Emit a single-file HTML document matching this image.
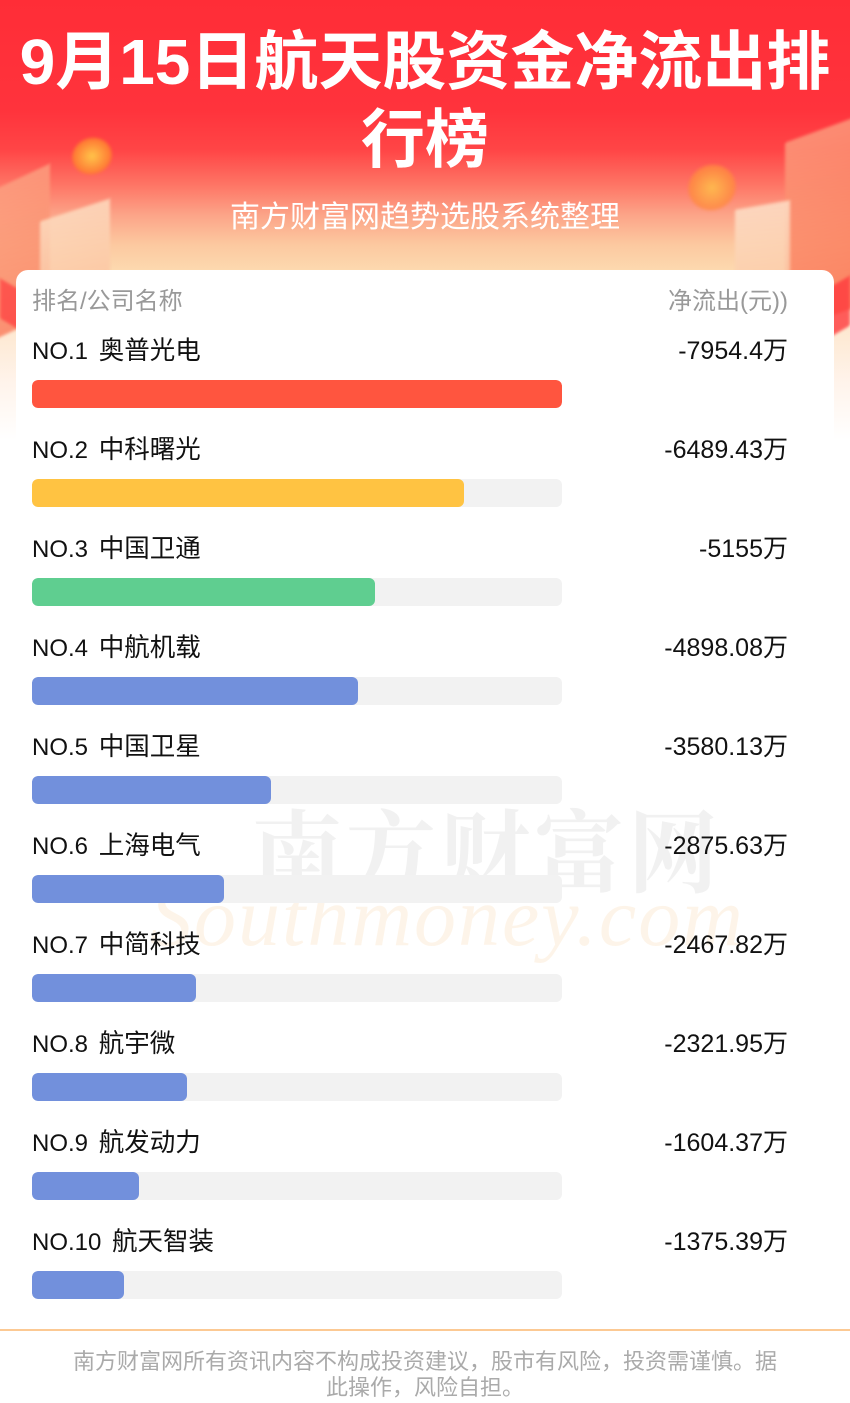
<!DOCTYPE html>
<html><head><meta charset="utf-8">
<style>
*{margin:0;padding:0;box-sizing:border-box}
html,body{width:850px;height:1403px;overflow:hidden;background:#fff}
body{position:relative;font-family:"Liberation Sans","Noto Sans CJK SC",sans-serif}
.bg{position:absolute;left:0;top:0;width:850px;height:440px;
background:linear-gradient(180deg,#ff2d37 0px,#ff333c 110px,#ff4546 150px,#fe7565 185px,#fca488 215px,#fcc9a0 245px,#fddcb2 275px,#fde6cc 320px,#fff3ea 380px,#ffffff 440px)}
.deco{position:absolute;filter:blur(1.5px)}
.card{position:absolute;left:16px;top:270px;width:818px;height:1140px;background:#fff;border-radius:12px 12px 0 0}
.title{position:absolute;left:0;width:850px;text-align:center;color:#fff;font-weight:700;font-size:64px;line-height:80px;font-family:"Liberation Sans","Noto Sans CJK SC",sans-serif}
.sub{position:absolute;left:0;top:200px;width:850px;text-align:center;color:#fff;font-size:30px;line-height:36px}
.hd{position:absolute;top:288px;font-size:24px;line-height:28px;color:#999}
.name{position:absolute;left:32px;font-size:24px;line-height:30px;color:#111;white-space:nowrap}
.name span{font-size:25.5px;margin-left:4px}
.val{position:absolute;right:62px;font-size:25px;line-height:30px;color:#111;text-align:right}
.track{position:absolute;left:32px;width:530px;height:28px;background:#f2f2f2;border-radius:6px;overflow:hidden}
.bar{position:absolute;left:0;top:0;height:28px;border-radius:6px}
.wm1{position:absolute;left:252px;top:796px;font-size:90px;line-height:100px;color:#ececec;opacity:.7;letter-spacing:4px;font-family:"Noto Serif CJK SC",serif;font-weight:700}
.wm2{position:absolute;left:150px;top:868px;font-size:84px;line-height:100px;color:#fdeedb;opacity:.6;font-style:italic;font-family:"Liberation Serif",serif;letter-spacing:2px}
.foot{position:absolute;left:0;top:1329px;width:850px;height:2px;background:#fcc993}
.ft{position:absolute;left:0;top:1349px;width:850px;text-align:center;font-size:22px;line-height:26px;color:#aaa}
</style></head><body>
<div class="bg"></div>
<!-- left decorations -->
<div class="deco" style="left:-20px;top:180px;width:70px;height:150px;background:linear-gradient(180deg,#fca282,#fb7a5a);transform:skewY(-25deg);opacity:.8"></div>
<div class="deco" style="left:40px;top:210px;width:70px;height:100px;background:linear-gradient(180deg,#fddcc0,#fcc09a);transform:skewY(-18deg);opacity:.85"></div>
<div class="deco" style="left:72px;top:138px;width:40px;height:36px;border-radius:50%;background:radial-gradient(#ffd24a,#ff7a30 70%,rgba(255,80,40,0) 100%);opacity:.9;transform:rotate(-20deg)"></div>
<div class="deco" style="left:0px;top:290px;width:40px;height:40px;background:#ff3b3e;transform:skewY(30deg);opacity:.7"></div>
<!-- right decorations -->
<div class="deco" style="left:785px;top:130px;width:70px;height:190px;background:linear-gradient(180deg,#fca080,#fb6a4a);transform:skewY(-20deg);opacity:.8"></div>
<div class="deco" style="left:735px;top:205px;width:55px;height:100px;background:linear-gradient(180deg,#fde0c8,#fcc6a0);transform:skewY(-10deg);opacity:.85"></div>
<div class="deco" style="left:688px;top:165px;width:48px;height:45px;border-radius:50%;background:radial-gradient(#ffc84a,#ff8a40 65%,rgba(255,120,60,0) 100%);opacity:.8;transform:rotate(-25deg)"></div>
<div class="deco" style="left:800px;top:290px;width:50px;height:50px;background:#ff3b3e;transform:skewY(-30deg);opacity:.8"></div>

<div class="title" style="top:22px">9月15日航天股资金净流出排</div>
<div class="title" style="top:100px">行榜</div>
<div class="sub">南方财富网趋势选股系统整理</div>

<div class="card"></div>
<div class="wm1">南方财富网</div>
<div class="wm2">Southmoney.com</div>

<div class="hd" style="left:32px">排名/公司名称</div>
<div class="hd" style="right:62px">净流出(元))</div>

<div class="name" style="top:336px">NO.1 <span>奥普光电</span></div><div class="val" style="top:336px">-7954.4万</div>
<div class="track" style="top:380px"><div class="bar" style="width:530px;background:#ff553f"></div></div>

<div class="name" style="top:435px">NO.2 <span>中科曙光</span></div><div class="val" style="top:435px">-6489.43万</div>
<div class="track" style="top:479px"><div class="bar" style="width:432px;background:#ffc342"></div></div>

<div class="name" style="top:534px">NO.3 <span>中国卫通</span></div><div class="val" style="top:534px">-5155万</div>
<div class="track" style="top:578px"><div class="bar" style="width:343px;background:#5fce90"></div></div>

<div class="name" style="top:633px">NO.4 <span>中航机载</span></div><div class="val" style="top:633px">-4898.08万</div>
<div class="track" style="top:677px"><div class="bar" style="width:326px;background:#7290dc"></div></div>

<div class="name" style="top:732px">NO.5 <span>中国卫星</span></div><div class="val" style="top:732px">-3580.13万</div>
<div class="track" style="top:776px"><div class="bar" style="width:239px;background:#7290dc"></div></div>

<div class="name" style="top:831px">NO.6 <span>上海电气</span></div><div class="val" style="top:831px">-2875.63万</div>
<div class="track" style="top:875px"><div class="bar" style="width:192px;background:#7290dc"></div></div>

<div class="name" style="top:930px">NO.7 <span>中简科技</span></div><div class="val" style="top:930px">-2467.82万</div>
<div class="track" style="top:974px"><div class="bar" style="width:164px;background:#7290dc"></div></div>

<div class="name" style="top:1029px">NO.8 <span>航宇微</span></div><div class="val" style="top:1029px">-2321.95万</div>
<div class="track" style="top:1073px"><div class="bar" style="width:155px;background:#7290dc"></div></div>

<div class="name" style="top:1128px">NO.9 <span>航发动力</span></div><div class="val" style="top:1128px">-1604.37万</div>
<div class="track" style="top:1172px"><div class="bar" style="width:107px;background:#7290dc"></div></div>

<div class="name" style="top:1227px">NO.10 <span>航天智装</span></div><div class="val" style="top:1227px">-1375.39万</div>
<div class="track" style="top:1271px"><div class="bar" style="width:92px;background:#7290dc"></div></div>

<div class="foot"></div>
<div class="ft">南方财富网所有资讯内容不构成投资建议，股市有风险，投资需谨慎。据<br>此操作，风险自担。</div>
</body></html>
